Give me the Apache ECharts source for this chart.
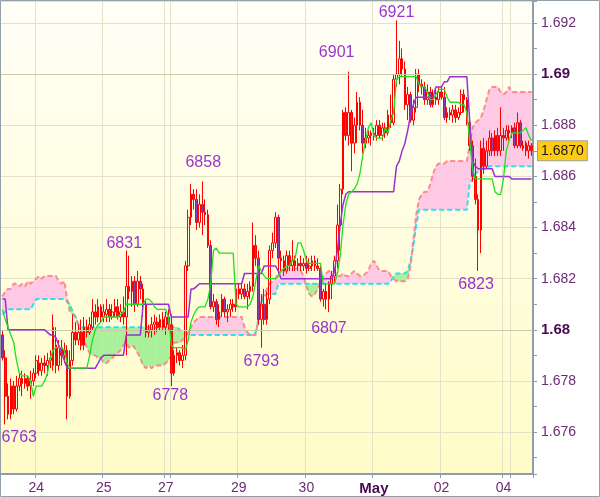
<!DOCTYPE html>
<html><head><meta charset="utf-8">
<script src="https://cdn.jsdelivr.net/npm/echarts@6/dist/echarts.min.js"></script>
<style>html,body{margin:0;padding:0;background:#fff}#c{width:600px;height:497px}</style>
</head><body><div id="c"></div>
<script>
// ---- data (hourly candles, [open, close, low, high]) ----
const ohlc = [
[1.6798,1.6789,1.6788,1.6800],[1.6789,1.6774,1.6763,1.6792],[1.6774,1.6767,1.6765,1.6779],[1.6767,1.6778,1.6765,1.6781],
[1.6778,1.6769,1.6767,1.6780],[1.6769,1.6778,1.6768,1.6782],[1.6778,1.6781,1.6776,1.6783],[1.6781,1.6779,1.6774,1.6784],
[1.6779,1.6781,1.6777,1.6783],[1.6781,1.6778,1.6776,1.6782],[1.6778,1.6780,1.6773,1.6784],[1.6780,1.6783,1.6778,1.6785],
[1.6783,1.6788,1.6781,1.6790],[1.6787,1.6784,1.6782,1.6790],[1.6784,1.6787,1.6782,1.6789],[1.6787,1.6786,1.6783,1.6790],
[1.6786,1.6788,1.6782,1.6791],[1.6788,1.6789,1.6785,1.6792],[1.6786,1.6801,1.6784,1.6806],[1.6794,1.6786,1.6783,1.6801],
[1.6786,1.6793,1.6784,1.6796],[1.6793,1.6790,1.6786,1.6796],[1.6790,1.6792,1.6787,1.6795],[1.6792,1.6774,1.6765,1.6794],
[1.6774,1.6788,1.6773,1.6792],[1.6788,1.6799,1.6786,1.6806],[1.6799,1.6796,1.6794,1.6803],[1.6796,1.6799,1.6794,1.6802],
[1.6799,1.6794,1.6792,1.6804],[1.6794,1.6801,1.6792,1.6805],[1.6801,1.6799,1.6797,1.6804],[1.6799,1.6802,1.6798,1.6805],
[1.6801,1.6807,1.6800,1.6812],[1.6807,1.6805,1.6802,1.6810],[1.6805,1.6809,1.6803,1.6812],[1.6809,1.6805,1.6803,1.6810],
[1.6805,1.6807,1.6803,1.6810],[1.6806,1.6808,1.6803,1.6812],[1.6808,1.6805,1.6803,1.6810],[1.6805,1.6807,1.6804,1.6810],
[1.6807,1.6809,1.6805,1.6812],[1.6809,1.6805,1.6804,1.6812],[1.6805,1.6807,1.6803,1.6810],[1.6807,1.6805,1.6802,1.6813],
[1.6805,1.6817,1.6790,1.6831],[1.6817,1.6815,1.6812,1.6829],[1.6815,1.6819,1.6809,1.6821],[1.6819,1.6810,1.6807,1.6821],
[1.6810,1.6819,1.6809,1.6823],[1.6819,1.6816,1.6812,1.6821],[1.6816,1.6810,1.6805,1.6818],[1.6810,1.6799,1.6797,1.6812],
[1.6799,1.6800,1.6797,1.6802],[1.6800,1.6802,1.6797,1.6805],[1.6802,1.6803,1.6798,1.6806],[1.6803,1.6801,1.6799,1.6805],
[1.6801,1.6804,1.6800,1.6806],[1.6804,1.6801,1.6800,1.6807],[1.6801,1.6805,1.6798,1.6807],[1.6805,1.6802,1.6800,1.6808],
[1.6802,1.6783,1.6778,1.6806],[1.6783,1.6790,1.6782,1.6792],[1.6790,1.6791,1.6787,1.6793],[1.6791,1.6788,1.6786,1.6792],
[1.6788,1.6790,1.6785,1.6794],[1.6790,1.6825,1.6788,1.6827],[1.6825,1.6844,1.6823,1.6847],[1.6844,1.6853,1.6841,1.6857],
[1.6853,1.6851,1.6847,1.6855],[1.6851,1.6842,1.6839,1.6855],[1.6842,1.6849,1.6840,1.6853],[1.6849,1.6846,1.6837,1.6858],
[1.6846,1.6845,1.6841,1.6851],[1.6845,1.6833,1.6832,1.6847],[1.6833,1.6809,1.6808,1.6835],[1.6809,1.6811,1.6807,1.6814],
[1.6811,1.6804,1.6802,1.6812],[1.6804,1.6807,1.6801,1.6810],[1.6807,1.6812,1.6805,1.6814],[1.6812,1.6807,1.6805,1.6813],
[1.6807,1.6808,1.6803,1.6810],[1.6808,1.6810,1.6805,1.6812],[1.6810,1.6809,1.6807,1.6812],[1.6809,1.6816,1.6807,1.6818],
[1.6816,1.6814,1.6812,1.6818],[1.6814,1.6816,1.6812,1.6818],[1.6816,1.6813,1.6812,1.6818],[1.6813,1.6815,1.6808,1.6818],
[1.6815,1.6817,1.6812,1.6819],[1.6817,1.6833,1.6815,1.6842],[1.6833,1.6828,1.6825,1.6837],[1.6828,1.6804,1.6802,1.6831],
[1.6804,1.6810,1.6793,1.6814],[1.6810,1.6804,1.6802,1.6816],[1.6804,1.6812,1.6802,1.6815],[1.6812,1.6831,1.6810,1.6833],
[1.6831,1.6834,1.6828,1.6838],[1.6834,1.6844,1.6832,1.6846],[1.6844,1.6828,1.6822,1.6845],[1.6828,1.6827,1.6823,1.6831],
[1.6827,1.6823,1.6821,1.6829],[1.6823,1.6829,1.6822,1.6831],[1.6829,1.6825,1.6823,1.6831],[1.6825,1.6827,1.6823,1.6835],
[1.6827,1.6825,1.6823,1.6829],[1.6825,1.6826,1.6823,1.6828],[1.6826,1.6825,1.6823,1.6829],[1.6825,1.6826,1.6823,1.6828],
[1.6826,1.6824,1.6822,1.6829],[1.6824,1.6825,1.6823,1.6828],[1.6825,1.6827,1.6823,1.6829],[1.6827,1.6825,1.6823,1.6829],
[1.6825,1.6824,1.6823,1.6828],[1.6824,1.6812,1.6811,1.6825],[1.6812,1.6815,1.6809,1.6816],[1.6815,1.6812,1.6808,1.6818],
[1.6812,1.6818,1.6807,1.6819],[1.6818,1.6821,1.6812,1.6823],[1.6821,1.6827,1.6818,1.6829],[1.6827,1.6841,1.6824,1.6849],
[1.6841,1.6855,1.6831,1.6857],[1.6855,1.6885,1.6853,1.6886],[1.6885,1.6876,1.6874,1.6887],[1.6876,1.6885,1.6872,1.6901],
[1.6885,1.6873,1.6862,1.6886],[1.6873,1.6880,1.6869,1.6883],[1.6880,1.6889,1.6873,1.6893],[1.6889,1.6880,1.6878,1.6891],
[1.6880,1.6873,1.6869,1.6886],[1.6873,1.6875,1.6871,1.6879],[1.6875,1.6876,1.6873,1.6878],[1.6876,1.6877,1.6872,1.6878],
[1.6877,1.6876,1.6874,1.6879],[1.6876,1.6880,1.6874,1.6882],[1.6880,1.6876,1.6875,1.6882],[1.6876,1.6879,1.6874,1.6881],
[1.6879,1.6877,1.6875,1.6881],[1.6877,1.6884,1.6876,1.6886],[1.6884,1.6881,1.6879,1.6892],[1.6881,1.6898,1.6880,1.6900],
[1.6898,1.6900,1.6895,1.6921],[1.6900,1.6906,1.6896,1.6913],[1.6906,1.6902,1.6899,1.6910],[1.6902,1.6888,1.6886,1.6905],
[1.6888,1.6892,1.6882,1.6895],[1.6892,1.6882,1.6881,1.6893],[1.6882,1.6887,1.6880,1.6890],[1.6887,1.6900,1.6885,1.6902],
[1.6900,1.6896,1.6893,1.6902],[1.6896,1.6895,1.6892,1.6898],[1.6895,1.6890,1.6888,1.6897],[1.6890,1.6893,1.6888,1.6896],
[1.6893,1.6888,1.6887,1.6895],[1.6888,1.6891,1.6887,1.6894],[1.6891,1.6890,1.6888,1.6895],[1.6890,1.6893,1.6888,1.6895],
[1.6893,1.6891,1.6890,1.6895],[1.6891,1.6883,1.6882,1.6895],[1.6883,1.6885,1.6881,1.6887],[1.6885,1.6884,1.6882,1.6887],
[1.6884,1.6886,1.6881,1.6888],[1.6886,1.6883,1.6881,1.6888],[1.6883,1.6885,1.6882,1.6887],[1.6885,1.6892,1.6884,1.6894],
[1.6892,1.6890,1.6885,1.6894],[1.6890,1.6881,1.6880,1.6891],[1.6881,1.6872,1.6870,1.6884],[1.6872,1.6860,1.6858,1.6874],
[1.6860,1.6851,1.6849,1.6867],[1.6851,1.6839,1.6823,1.6853],[1.6839,1.6871,1.6830,1.6874],[1.6871,1.6864,1.6861,1.6875],
[1.6864,1.6870,1.6863,1.6874],[1.6870,1.6875,1.6868,1.6878],[1.6875,1.6870,1.6868,1.6877],[1.6870,1.6876,1.6868,1.6878],
[1.6876,1.6870,1.6868,1.6879],[1.6870,1.6876,1.6868,1.6887],[1.6876,1.6875,1.6870,1.6879],[1.6875,1.6878,1.6874,1.6880],
[1.6878,1.6877,1.6874,1.6880],[1.6877,1.6879,1.6875,1.6880],[1.6879,1.6872,1.6871,1.6881],[1.6872,1.6881,1.6871,1.6885],
[1.6881,1.6872,1.6871,1.6882],[1.6872,1.6871,1.6870,1.6874],[1.6873,1.6870,1.6868,1.6874],[1.6870,1.6872,1.6867,1.6874],
[1.6872,1.6870,1.6868,1.6873]
];

// Tenkan-sen (green)
const tenkan = [
1.6808,1.6804,1.6801,1.6798,1.6795,1.6788,1.6783,1.6782,1.6782,1.6782,1.6780,1.6774,
1.6778,1.6778,1.6778,1.6780,1.6783,1.6789,1.6792,1.6793,1.6793,1.6793,1.6792,1.6787,
1.6785,1.6785,1.6785,1.6785,1.6785,1.6785,1.6785,1.6790,1.6796,1.6800,1.6802,1.6803,
1.6805,1.6805,1.6805,1.6805,1.6805,1.6805,1.6806,1.6807,1.6810,1.6810,1.6810,1.6810,
1.6810,1.6810,1.6810,1.6812,1.6812,1.6811,1.6809,1.6808,1.6808,1.6808,1.6808,1.6805,
1.6794,1.6793,1.6793,1.6793,1.6793,1.6792,1.6796,1.6803,1.6806,1.6808,1.6809,1.6809,
1.6809,1.6812,1.6818,1.6831,1.6832,1.6830,1.6830,1.6830,1.6830,1.6830,1.6830,1.6810,
1.6809,1.6809,1.6809,1.6809,1.6810,1.6813,1.6819,1.6825,1.6823,1.6821,1.6820,1.6820,
1.6820,1.6820,1.6821,1.6823,1.6824,1.6825,1.6825,1.6827,1.6828,1.6834,1.6834,1.6831,
1.6827,1.6826,1.6826,1.6826,1.6826,1.6826,1.6818,1.6818,1.6818,1.6818,1.6818,1.6822,
1.6829,1.6841,1.6849,1.6853,1.6854,1.6855,1.6857,1.6861,1.6868,1.6874,1.6879,1.6881,
1.6876,1.6875,1.6875,1.6875,1.6879,1.6877,1.6882,1.6885,1.6898,1.6899,1.6899,1.6899,
1.6899,1.6899,1.6899,1.6899,1.6896,1.6895,1.6895,1.6893,1.6890,1.6890,1.6892,1.6894,
1.6894,1.6894,1.6891,1.6889,1.6889,1.6889,1.6889,1.6888,1.6888,1.6885,1.6874,1.6863,
1.6859,1.6859,1.6859,1.6859,1.6859,1.6859,1.6859,1.6854,1.6853,1.6853,1.6859,1.6870,
1.6874,1.6877,1.6877,1.6877,1.6877,1.6878,1.6879,1.6876,1.6874
];

// Kijun-sen (purple)
const kijun = [
1.6812,1.6812,1.6800,1.6800,1.6800,1.6800,1.6800,1.6800,1.6800,1.6800,1.6800,1.6800,
1.6800,1.6800,1.6800,1.6800,1.6799,1.6798,1.6798,1.6797,1.6794,1.6791,1.6788,1.6785,
1.6785,1.6785,1.6785,1.6785,1.6785,1.6785,1.6785,1.6785,1.6785,1.6785,1.6787,1.6789,
1.6790,1.6790,1.6790,1.6790,1.6790,1.6790,1.6790,1.6790,1.6798,1.6798,1.6798,1.6798,
1.6798,1.6798,1.6810,1.6810,1.6810,1.6810,1.6810,1.6810,1.6810,1.6810,1.6810,1.6810,
1.6805,1.6805,1.6805,1.6805,1.6805,1.6805,1.6805,1.6816,1.6816,1.6817,1.6818,1.6818,
1.6818,1.6818,1.6818,1.6818,1.6818,1.6818,1.6818,1.6818,1.6818,1.6818,1.6818,1.6818,
1.6818,1.6818,1.6822,1.6822,1.6822,1.6822,1.6822,1.6822,1.6822,1.6825,1.6825,1.6825,
1.6825,1.6825,1.6823,1.6820,1.6820,1.6820,1.6820,1.6820,1.6820,1.6820,1.6820,1.6820,
1.6820,1.6820,1.6820,1.6820,1.6820,1.6820,1.6820,1.6820,1.6820,1.6820,1.6823,1.6831,
1.6841,1.6849,1.6853,1.6854,1.6854,1.6854,1.6854,1.6854,1.6854,1.6854,1.6854,1.6854,
1.6854,1.6854,1.6854,1.6854,1.6854,1.6854,1.6854,1.6854,1.6864,1.6866,1.6870,1.6873,
1.6878,1.6884,1.6888,1.6891,1.6891,1.6891,1.6891,1.6891,1.6891,1.6891,1.6895,1.6895,
1.6895,1.6897,1.6897,1.6899,1.6899,1.6899,1.6899,1.6899,1.6899,1.6899,1.6882,1.6866,
1.6864,1.6863,1.6863,1.6863,1.6863,1.6863,1.6863,1.6860,1.6860,1.6860,1.6860,1.6860,
1.6860,1.6859,1.6859,1.6859,1.6859,1.6859,1.6859,1.6859,1.6859
];

// Senkou span A (cyan dashed)
const spanA = [
1.6806,1.6807,1.6808,1.6808,1.6808,1.6808,1.6808,1.6808,1.6808,1.6808,1.6808,1.6810,
1.6812,1.6812,1.6812,1.6812,1.6812,1.6812,1.6812,1.6812,1.6812,1.6812,1.6812,1.6811,
1.6810,1.6807,1.6805,1.6802,1.6801,1.6801,1.6801,1.6801,1.6801,1.6801,1.6801,1.6801,
1.6801,1.6801,1.6801,1.6801,1.6801,1.6801,1.6801,1.6801,1.6801,1.6801,1.6801,1.6801,
1.6801,1.6801,1.6801,1.6801,1.6801,1.6801,1.6801,1.6801,1.6801,1.6801,1.6801,1.6801,
1.6801,1.6801,1.6801,1.6800,1.6799,1.6799,1.6798,1.6798,1.6798,1.6798,1.6798,1.6798,
1.6798,1.6798,1.6798,1.6798,1.6798,1.6798,1.6798,1.6798,1.6798,1.6798,1.6798,1.6798,
1.6798,1.6798,1.6798,1.6798,1.6798,1.6798,1.6799,1.6804,1.6811,1.6813,1.6814,1.6814,
1.6814,1.6814,1.6818,1.6818,1.6818,1.6818,1.6818,1.6818,1.6818,1.6818,1.6818,1.6818,
1.6818,1.6818,1.6818,1.6818,1.6818,1.6818,1.6818,1.6818,1.6818,1.6818,1.6818,1.6818,
1.6818,1.6818,1.6818,1.6818,1.6818,1.6818,1.6818,1.6818,1.6818,1.6818,1.6818,1.6818,
1.6818,1.6818,1.6818,1.6818,1.6818,1.6818,1.6819,1.6821,1.6822,1.6822,1.6822,1.6822,
1.6823,1.6827,1.6833,1.6841,1.6847,1.6847,1.6847,1.6847,1.6847,1.6847,1.6847,1.6847,
1.6847,1.6847,1.6847,1.6847,1.6847,1.6847,1.6847,1.6847,1.6847,1.6847,1.6857,1.6859,
1.6861,1.6862,1.6863,1.6863,1.6863,1.6864,1.6864,1.6864,1.6864,1.6864,1.6864,1.6864,
1.6864,1.6864,1.6864,1.6864,1.6864,1.6864,1.6864,1.6864,1.6864
];

// Senkou span B (pink dashed)
const spanB = [
1.6813,1.6815,1.6816,1.6816,1.6818,1.6818,1.6817,1.6818,1.6817,1.6819,1.6818,1.6819,
1.6820,1.6821,1.6820,1.6821,1.6821,1.6821,1.6821,1.6821,1.6819,1.6818,1.6819,1.6812,
1.6807,1.6806,1.6805,1.6802,1.6799,1.6796,1.6793,1.6791,1.6790,1.6790,1.6789,1.6789,
1.6787,1.6787,1.6788,1.6789,1.6790,1.6791,1.6792,1.6794,1.6795,1.6793,1.6794,1.6793,
1.6791,1.6789,1.6786,1.6785,1.6786,1.6785,1.6786,1.6786,1.6786,1.6786,1.6787,1.6788,
1.6790,1.6795,1.6795,1.6795,1.6796,1.6797,1.6799,1.6801,1.6803,1.6804,1.6805,1.6805,
1.6805,1.6805,1.6805,1.6805,1.6805,1.6805,1.6805,1.6805,1.6805,1.6805,1.6805,1.6805,
1.6805,1.6805,1.6801,1.6799,1.6798,1.6798,1.6798,1.6805,1.6812,1.6814,1.6816,1.6818,
1.6819,1.6820,1.6822,1.6823,1.6824,1.6824,1.6824,1.6824,1.6824,1.6824,1.6823,1.6821,
1.6817,1.6814,1.6813,1.6814,1.6816,1.6819,1.6821,1.6822,1.6823,1.6823,1.6823,1.6821,
1.6821,1.6822,1.6821,1.6821,1.6822,1.6823,1.6822,1.6821,1.6821,1.6822,1.6823,1.6826,
1.6827,1.6825,1.6823,1.6823,1.6823,1.6823,1.6821,1.6820,1.6819,1.6819,1.6819,1.6819,
1.6820,1.6825,1.6835,1.6845,1.6851,1.6853,1.6854,1.6854,1.6857,1.6861,1.6864,1.6865,
1.6865,1.6865,1.6866,1.6866,1.6866,1.6866,1.6866,1.6866,1.6866,1.6866,1.6872,1.6879,
1.6881,1.6882,1.6883,1.6886,1.6890,1.6894,1.6895,1.6895,1.6895,1.6893,1.6892,1.6893,
1.6895,1.6893,1.6893,1.6893,1.6893,1.6893,1.6893,1.6893,1.6893
];

// day labels on the time axis and the candle index where each day starts
const days = ['23','24','25','27','28','29','30','May','02','04','05'];
const dayStart = [0,12,36,58,60,84,108,132,156,178,181];
const labelledDays = ['24','25','27','29','30','May','02','04'];
const boldDays = ['May'];

// y-axis range and tick labels
const yRange = [1.67436, 1.69286];
const boldLevels = [1.68, 1.69];

// annotated extremes: candle index and which side (label text comes from the data)
const extremeLows = [1, 60, 92, 116, 169];
const extremeHighs = [44, 71, 123, 140];

// ---- styles ----
const FONT = '"Liberation Sans", Arial, sans-serif';
const labelOffsets = {1:[14,13], 60:[-1,10], 92:[0,14], 116:[0,17], 169:[-2,14], 44:[-2,-7], 71:[1,-19], 123:[-12,-19], 140:[0,-8]};
const PINK = '#FFC9E6', GREEN = '#A9F09A';

// ---- build ----
const N = ohlc.length;
const categories = [];
for (let i = 0; i < N; i++) {
  let d = 0;
  while (d + 1 < days.length && dayStart[d + 1] <= i) d++;
  categories.push(days[d] + '|' + (i - dayStart[d]));
}
const labelIdx = new Set(dayStart.filter((s, k) => labelledDays.includes(days[k])));
const gridIdx = new Set(dayStart.filter((s, k) => k > 0));
const lastClose = ohlc[N - 1][1];

const extremeItems = [];
extremeLows.forEach(i => {
  const v = ohlc[i][2];
  extremeItems.push({value: [i, v], text: String(Math.round(v * 10000) % 10000), label: {offset: labelOffsets[i]}});
});
extremeHighs.forEach(i => {
  const v = ohlc[i][3];
  extremeItems.push({value: [i, v], text: String(Math.round(v * 10000) % 10000), label: {offset: labelOffsets[i]}});
});

const chart = echarts.init(document.getElementById('c'), null, {renderer: 'canvas', width: 600, height: 497});

const option = {
  animation: false,
  backgroundColor: '#ffffff',
  grid: {
    left: 1, right: 67, top: 1, bottom: 23, show: true, borderWidth: 0,
    backgroundColor: {type: 'linear', x: 0, y: 0, x2: 0, y2: 1,
      colorStops: [{offset: 0, color: '#FFFFF7'}, {offset: 1, color: '#FFFCC8'}]}
  },
  xAxis: {
    type: 'category', data: categories, boundaryGap: true,
    axisLine: {show: true, lineStyle: {color: '#8F9DA8', width: 2}},
    axisTick: {show: true, length: 4, interval: (i) => gridIdx.has(i), lineStyle: {color: '#8F9DA8'}},
    axisLabel: {
      interval: (i) => labelIdx.has(i), margin: 7, color: '#6B2A73', fontSize: 14, fontFamily: FONT,
      formatter: (v) => { const d = v.split('|')[0]; return boldDays.includes(d) ? '{b|' + d + '}' : d; },
      rich: {b: {fontWeight: 'bold', fontSize: 15, color: '#4A0A52', fontFamily: FONT}}
    },
    splitLine: {show: true, interval: (i) => gridIdx.has(i), lineStyle: {color: '#E2E2C9', width: 1}}
  },
  yAxis: [{
    type: 'value', position: 'right', min: yRange[0], max: yRange[1], splitNumber: 9, scale: true,
    axisLine: {show: true, lineStyle: {color: '#8F9DA8', width: 2}},
    axisTick: {show: false},
    axisLabel: {
      showMinLabel: false, showMaxLabel: false, margin: 8, color: '#6B2A73', fontSize: 14, fontFamily: FONT,
      formatter: (v) => {
        const s = String(parseFloat(v.toFixed(3)));
        return boldLevels.some(b => Math.abs(b - v) < 1e-7) ? '{b|' + s + '}' : s;
      },
      rich: {b: {fontWeight: 'bold', fontSize: 15, color: '#4A0A52', fontFamily: FONT}}
    },
    splitLine: {show: true, lineStyle: {color: '#E2E2C9', width: 1}}
  }, {
    type: 'value', position: 'right', min: yRange[0], max: yRange[1], splitNumber: 18, scale: true,
    axisLine: {show: false}, axisLabel: {show: false}, splitLine: {show: false},
    axisTick: {show: true, length: 4, lineStyle: {color: '#8F9DA8', width: 1}}
  }],
  series: [
    { // darker reference grid lines
      type: 'line', data: [], z: 1, silent: true,
      markLine: {silent: true, symbol: ['none', 'none'], label: {show: false}, animation: false, precision: 4,
        lineStyle: {color: '#CACAA6', width: 1, type: 'solid'},
        data: boldLevels.map(v => ({yAxis: v}))}
    },
    { // kumo cloud
      type: 'custom', z: 2, silent: true, clip: true,
      data: spanA.slice(0, -1).map((a, i) => [i, a, spanB[i]]),
      encode: {x: 0, y: [1, 2]},
      renderItem: (params, api) => {
        const i = api.value(0);
        const a0 = spanA[i], b0 = spanB[i], a1 = spanA[i + 1], b1 = spanB[i + 1];
        const pA0 = api.coord([i, a0]), pB0 = api.coord([i, b0]);
        const pA1 = api.coord([i + 1, a1]), pB1 = api.coord([i + 1, b1]);
        const d0 = a0 - b0, d1 = a1 - b1;
        const poly = (pts, c) => ({type: 'polygon', shape: {points: pts}, style: {fill: c, stroke: c, lineWidth: 0.6}});
        if (d0 * d1 >= 0) {
          return poly([pA0, pA1, pB1, pB0], (d0 + d1) > 0 ? GREEN : PINK);
        }
        const t = d0 / (d0 - d1);
        const pc = [pA0[0] + t * (pA1[0] - pA0[0]), pA0[1] + t * (pA1[1] - pA0[1])];
        return {type: 'group', children: [
          poly([pA0, pc, pB0], d0 > 0 ? GREEN : PINK),
          poly([pc, pA1, pB1], d1 > 0 ? GREEN : PINK)
        ]};
      }
    },
    {type: 'line', name: 'spanA', data: spanA, z: 3, symbol: 'none', silent: true,
      lineStyle: {color: '#2EDDF0', width: 2, type: [5, 3]}},
    {type: 'line', name: 'spanB', data: spanB, z: 3, symbol: 'none', silent: true,
      lineStyle: {color: 'rgba(255,125,125,0.85)', width: 2, type: [5, 3]}},
    {
      type: 'candlestick', data: ohlc, z: 4, barWidth: 2.2, large: false, silent: true,
      itemStyle: {color: 'rgba(255,255,255,0)', color0: '#8A3FB0', borderColor: '#FF0000', borderColor0: '#FF0000', borderWidth: 1}
    },
    {type: 'line', name: 'kijun', data: kijun, z: 5, symbol: 'none', silent: true,
      lineStyle: {color: '#9B30D0', width: 1.5}},
    {type: 'line', name: 'tenkan', data: tenkan, z: 6, symbol: 'none', silent: true,
      lineStyle: {color: '#1FE01F', width: 1.3}},
    {
      type: 'scatter', z: 7, symbol: 'circle', symbolSize: 1, silent: true, clip: false,
      itemStyle: {color: 'rgba(0,0,0,0)'},
      data: extremeItems,
      label: {show: true, position: 'inside', color: '#8000CC', fontSize: 16, fontFamily: FONT,
        formatter: (p) => p.data.text}
    },
    { // last price badge on the axis
      type: 'line', data: [], z: 10, silent: true,
      markLine: {
        silent: true, symbol: ['none', 'none'], animation: false, precision: 4,
        lineStyle: {color: 'rgba(0,0,0,0)', width: 1},
        label: {show: true, position: 'end', distance: 5, formatter: () => lastClose.toFixed(4),
          color: '#1A1A1A', fontSize: 14, fontFamily: FONT, backgroundColor: '#FFCC11',
          borderColor: '#9AA3AA', borderWidth: 1, padding: [3, 3, 2, 3]},
        data: [{yAxis: lastClose}]
      }
    }
  ],
  graphic: [{
    type: 'rect', z: 100, silent: true,
    shape: {x: 0.5, y: 0.5, width: 599, height: 496},
    style: {fill: null, stroke: '#93A0AA', lineWidth: 1}
  }]
};
chart.setOption(option);
</script>
</body></html>
